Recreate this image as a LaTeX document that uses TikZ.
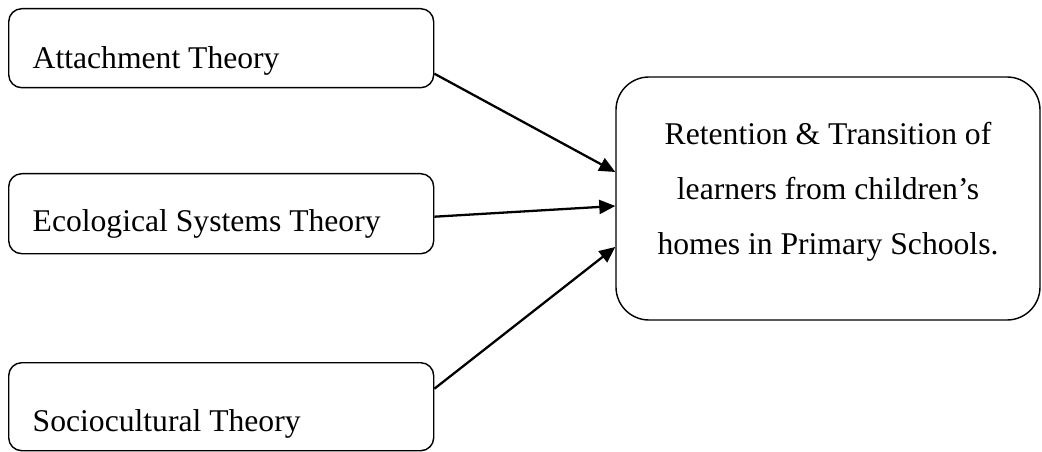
\documentclass[tikz,border=0pt]{standalone}
\usepackage{fontspec}
\setmainfont{Liberation Serif}
\usetikzlibrary{arrows.meta}

\begin{document}
\begin{tikzpicture}
   [
      >={Triangle[length=0.32cm, width=0.28cm]},
      theory/.style={rectangle, draw, rounded corners=0.26cm, line width=0.8pt,
      inner xsep=0.48cm, inner ysep=0pt,
      anchor=north west, font=\fontsize{18}{22}\selectfont},
      outcome/.style={rectangle, draw, rounded corners=0.66cm, line width=0.8pt,
      minimum width=8.48cm, minimum height=4.86cm, align=center,
      font=\fontsize{18}{31.3}\selectfont}
   ]
   \useasboundingbox (0,0) rectangle (20.84,-9.04);

   \foreach \name/\ytop/\hgt/\dpt/\txt in {attach/0.16/1.2/0.38/Attachment Theory,
      ecology/3.46/1.16/0.44/Ecological Systems Theory,
      socio/7.24/1.38/0.38/Sociocultural Theory}
      \node[theory, text height=\hgt cm, text depth=\dpt cm] (\name) at (0.16,-\ytop)
         {\makebox[7.54cm][l]{\txt}};

   \node[outcome] (result) at (16.56,-3.97)
      {Retention \& Transition of\\learners from children’s\\homes in Primary
      Schools.\rule[-0.42cm]{0pt}{0.42cm}};

   \foreach \src/\sa/\ea in {attach/-0.51/0.53, ecology/-0.06/-0.15, socio/0.36/-0.97}
      \draw[->, line width=1.3pt] ([yshift=\sa cm]\src.east) -- ([yshift=\ea cm]result.west);
\end{tikzpicture}
\end{document}
